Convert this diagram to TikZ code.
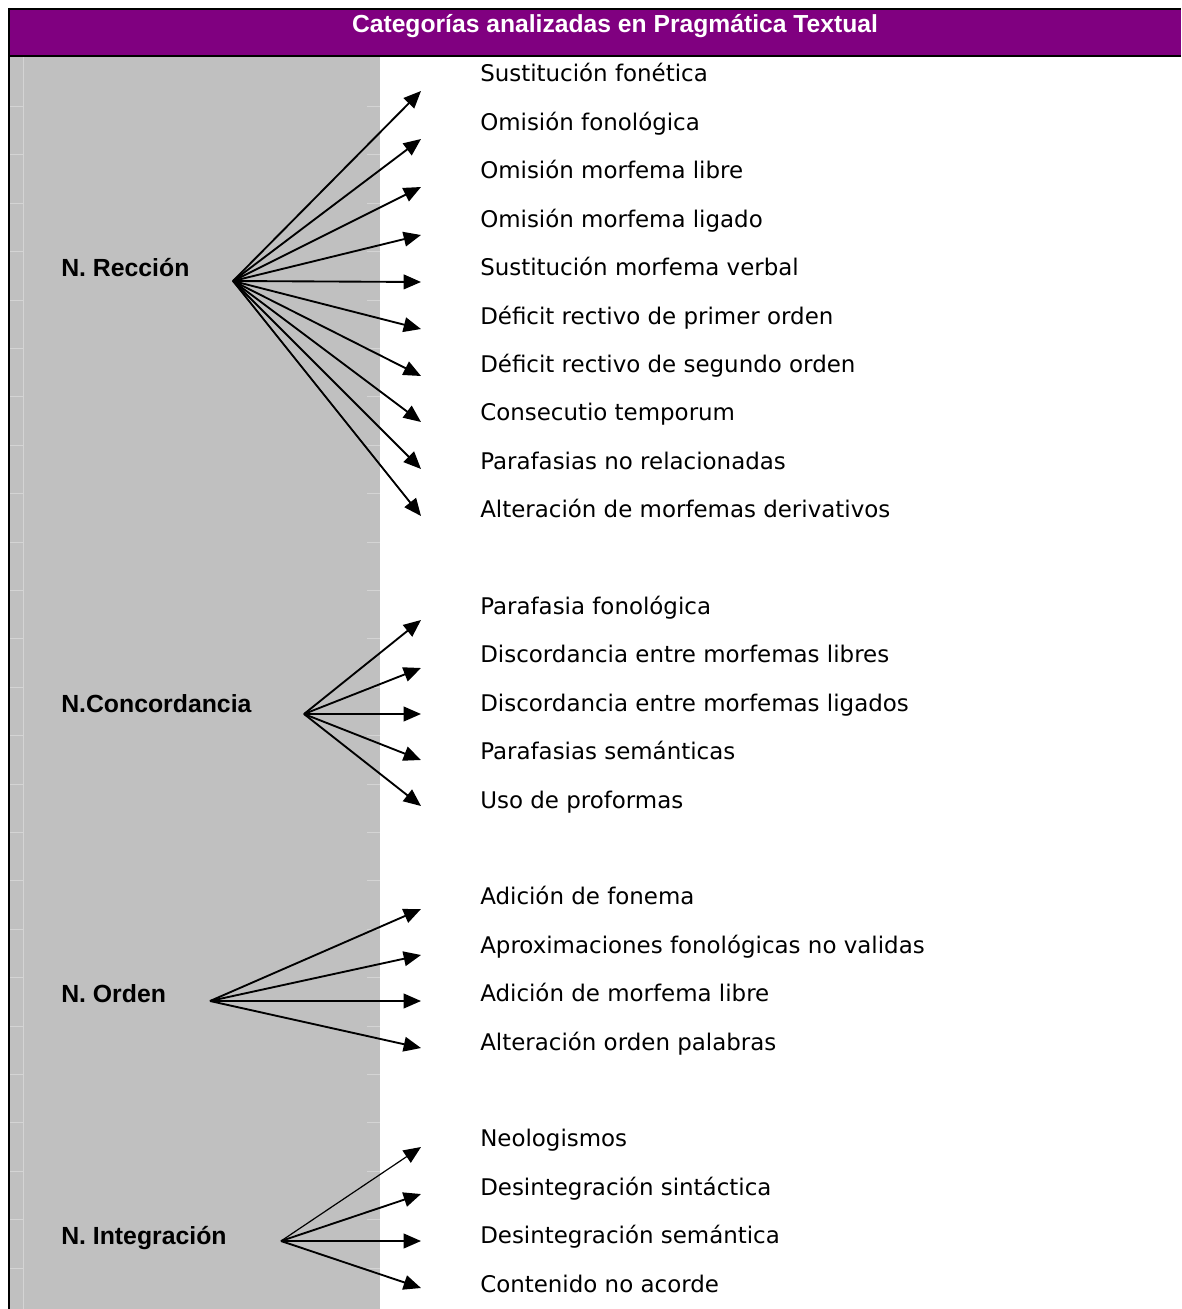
\documentclass[tikz,border=0pt]{standalone}
\usepackage{fontspec}
\usepackage{tikz}
\usetikzlibrary{arrows.meta}
\setmainfont{Liberation Sans}
\newfontfamily\itemfont{DejaVu Sans}
\definecolor{headpurple}{RGB}{128,0,128}
\definecolor{cellgray}{RGB}{192,192,192}
\definecolor{gridgray}{RGB}{212,212,212}

\begin{document}
\begin{tikzpicture}[x = 0.75pt, y = -0.75pt,
                        label/.style = {anchor = base west, inner sep = 0pt, font = \fontsize{18.6}{22}\selectfont\bfseries},
                        item/.style = {anchor = base west, inner sep = 0pt, font = \itemfont\fontsize{17.2}{20}\selectfont},
                        arr/.style = {line width = 1.4pt, -{Triangle[length = 13pt, width = 11pt]}}]
    \useasboundingbox (0, 0) rectangle (1181, 1309);
    % header and grey column
    \fill [headpurple] (9, 9) rectangle (1181, 56);
    \fill [cellgray] (9, 56) rectangle (380, 1309);
    \draw [gridgray, line width = 0.75pt] (23, 57) -- (23, 1309);
    \foreach \y in {106.4, 154.8, ..., 1300}
      {\draw [gridgray, line width = 0.75pt] (10, \y) -- (23, \y) (367, \y) -- (380, \y);}
    \draw [line width = 1.5pt] (9, 9) -- (1181, 9);
    \draw [line width = 1.5pt] (9, 56) -- (1181, 56);
    \draw [line width = 1.5pt] (9, 8) -- (9, 1309);
    \node [anchor = base, inner sep = 0pt, text = white, font = \fontsize{18.5}{22}\selectfont\bfseries] (title) at (615, 33) {Categorías analizadas en Pragmática Textual};

    % N. Reccion
    \node [label] (rec) at (61, 276.6) {N. Rección};
    \coordinate (rech) at (233, 281);
    \node [item] (r1) at (480, 82.0) {Sustitución fonética};
    \node [item] (r2) at (480, 130.4) {Omisión fonológica};
    \node [item] (r3) at (480, 178.8) {Omisión morfema libre};
    \node [item] (r4) at (480, 227.2) {Omisión morfema ligado};
    \node [item] (r5) at (480, 275.6) {Sustitución morfema verbal};
    \node [item] (r6) at (480, 324.0) {Déficit rectivo de primer orden};
    \node [item] (r7) at (480, 372.4) {Déficit rectivo de segundo orden};
    \node [item] (r8) at (480, 420.8) {Consecutio temporum};
    \node [item] (r9) at (480, 469.2) {Parafasias no relacionadas};
    \node [item] (r10) at (480, 517.6) {Alteración de morfemas derivativos};
    \coordinate (rt1) at (421, 91);
    \coordinate (rt2) at (421, 139);
    \coordinate (rt3) at (421, 187);
    \coordinate (rt4) at (421, 235);
    \coordinate (rt5) at (421, 282);
    \coordinate (rt6) at (421, 329);
    \coordinate (rt7) at (421, 376);
    \coordinate (rt8) at (421, 422);
    \coordinate (rt9) at (421, 469);
    \coordinate (rt10) at (421, 516);
    \draw [arr] (rech)--(rt1);
    \draw [arr] (rech)--(rt2);
    \draw [arr] (rech)--(rt3);
    \draw [arr] (rech)--(rt4);
    \draw [arr] (rech)--(rt5);
    \draw [arr] (rech)--(rt6);
    \draw [arr] (rech)--(rt7);
    \draw [arr] (rech)--(rt8);
    \draw [arr] (rech)--(rt9);
    \draw [arr] (rech)--(rt10);

    % N. Concordancia
    \node [label] (con) at (61, 712.2) {N.Concordancia};
    \coordinate (conh) at (304, 714);
    \node [item] (c1) at (480, 614.4) {Parafasia fonológica};
    \node [item] (c2) at (480, 662.8) {Discordancia entre morfemas libres};
    \node [item] (c3) at (480, 711.2) {Discordancia entre morfemas ligados};
    \node [item] (c4) at (480, 759.6) {Parafasias semánticas};
    \node [item] (c5) at (480, 808.0) {Uso de proformas};
    \coordinate (ct1) at (421, 620);
    \coordinate (ct2) at (421, 668);
    \coordinate (ct3) at (421, 714);
    \coordinate (ct4) at (421, 760);
    \coordinate (ct5) at (421, 806);
    \draw [arr] (conh)--(ct1);
    \draw [arr] (conh)--(ct2);
    \draw [arr] (conh)--(ct3);
    \draw [arr] (conh)--(ct4);
    \draw [arr] (conh)--(ct5);

    % N. Orden
    \node [label] (ord) at (61, 1002.6) {N. Orden};
    \coordinate (ordh) at (210, 1001);
    \node [item] (o1) at (480, 904.8) {Adición de fonema};
    \node [item] (o2) at (480, 953.2) {Aproximaciones fonológicas no validas};
    \node [item] (o3) at (480, 1001.6) {Adición de morfema libre};
    \node [item] (o4) at (480, 1050.0) {Alteración orden palabras};
    \coordinate (ot1) at (421, 909);
    \coordinate (ot2) at (421, 955);
    \coordinate (ot3) at (421, 1001);
    \coordinate (ot4) at (421, 1048);
    \draw [arr] (ordh)--(ot1);
    \draw [arr] (ordh)--(ot2);
    \draw [arr] (ordh)--(ot3);
    \draw [arr] (ordh)--(ot4);

    % N. Integracion
    \node [label] (int) at (61, 1244.6) {N. Integración};
    \coordinate (inth) at (281, 1241);
    \node [item] (i1) at (480, 1146.8) {Neologismos};
    \node [item] (i2) at (480, 1195.2) {Desintegración sintáctica};
    \node [item] (i3) at (480, 1243.6) {Desintegración semántica};
    \node [item] (i4) at (480, 1292.0) {Contenido no acorde};
    \coordinate (it1) at (421, 1147);
    \coordinate (it2) at (421, 1194);
    \coordinate (it3) at (421, 1241);
    \coordinate (it4) at (421, 1288);
    \draw [arr, line width = 0.9pt] (inth)--(it1);
    \draw [arr] (inth)--(it2);
    \draw [arr] (inth)--(it3);
    \draw [arr] (inth)--(it4);
  \end{tikzpicture}
\end{document}
